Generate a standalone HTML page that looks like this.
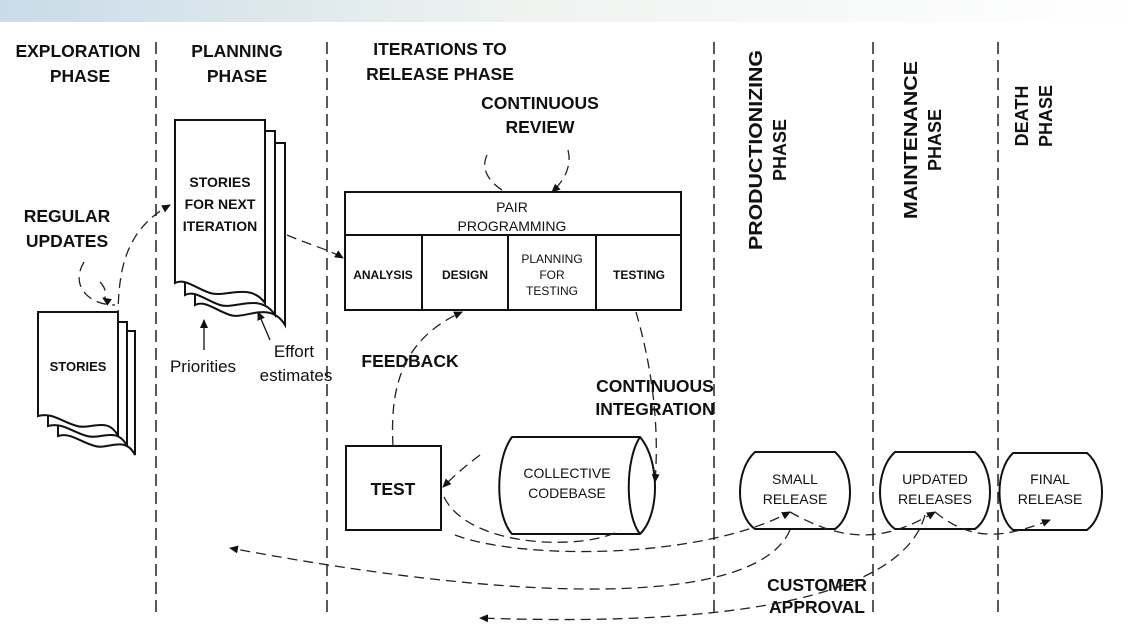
<!DOCTYPE html>
<html><head><meta charset="utf-8"><style>
html,body{margin:0;padding:0;background:#fff;}
svg{display:block;font-family:"Liberation Sans",Arial,sans-serif;}
.h{font-weight:bold;font-size:17.5px;fill:#111;text-anchor:middle;}
.s{font-size:13px;fill:#111;text-anchor:middle;}
.m{font-size:17px;fill:#111;text-anchor:middle;}
.d{stroke:#222;stroke-width:1.5;stroke-dasharray:12 6;fill:none;}
.c{stroke:#222;stroke-width:1.3;stroke-dasharray:10 6;fill:none;}
.b{stroke:#111;stroke-width:2;fill:#fff;}
</style></head><body>
<svg width="1140" height="631" viewBox="0 0 1140 631">
<defs>
<linearGradient id="g" x1="0" x2="1"><stop offset="0" stop-color="#c9dbe8"/><stop offset="0.45" stop-color="#eef3f0"/><stop offset="1" stop-color="#fff"/></linearGradient>
<marker id="a" markerWidth="10" markerHeight="10" refX="8" refY="5" orient="auto" markerUnits="userSpaceOnUse"><path d="M0,1 L9,5 L0,9 z" fill="#111"/></marker>
</defs>
<rect x="0" y="0" width="1140" height="22" fill="url(#g)"/>
<line class="d" x1="156" y1="42" x2="156" y2="612"/>
<line class="d" x1="327" y1="42" x2="327" y2="612"/>
<line class="d" x1="714" y1="42" x2="714" y2="612"/>
<line class="d" x1="873" y1="42" x2="873" y2="612"/>
<line class="d" x1="998" y1="42" x2="998" y2="612"/>
<text class="h" x="78" y="57">EXPLORATION</text><text class="h" x="80" y="82">PHASE</text>
<text class="h" x="237" y="57">PLANNING</text><text class="h" x="237" y="82">PHASE</text>
<text class="h" x="440" y="55">ITERATIONS TO</text><text class="h" x="440" y="80">RELEASE PHASE</text>
<text class="h" style="font-size:18px" transform="translate(762,150) rotate(-90)" textLength="200" lengthAdjust="spacingAndGlyphs">PRODUCTIONIZING</text>
<text class="h" style="font-size:18px" transform="translate(786,150) rotate(-90)">PHASE</text>
<text class="h" style="font-size:18px" transform="translate(917,140) rotate(-90)" textLength="158" lengthAdjust="spacingAndGlyphs">MAINTENANCE</text>
<text class="h" style="font-size:18px" transform="translate(941,140) rotate(-90)">PHASE</text>
<text class="h" style="font-size:18px" transform="translate(1028,116) rotate(-90)">DEATH</text>
<text class="h" style="font-size:18px" transform="translate(1052,116) rotate(-90)">PHASE</text>
<path class="b" d="M195,143 H285 V325 C270,300 245,320 230,315 C215,310 205,300 195,305 Z"/>
<path class="b" d="M185,131 H275 V315 C260,292 235,310 220,305 C205,300 195,290 185,295 Z"/>
<path class="b" d="M175,120 H265 V303 C250,282 225,298 210,293 C195,288 185,278 175,283 Z"/>
<text class="s" style="font-weight:bold;font-size:14px" x="220" y="187">STORIES</text>
<text class="s" style="font-weight:bold;font-size:14px" x="220" y="209">FOR NEXT</text>
<text class="s" style="font-weight:bold;font-size:14px" x="220" y="231">ITERATION</text>
<path class="b" d="M58,331 H135 V455 C125,435 108,450 95,446 C80,442 70,432 58,436 Z"/>
<path class="b" d="M48,322 H127 V446 C117,426 100,440 87,436 C72,432 62,422 48,426 Z"/>
<path class="b" d="M38,312 H118 V436 C108,416 90,430 77,426 C62,422 52,412 38,416 Z"/>
<text class="s" style="font-weight:bold" x="78" y="371">STORIES</text>
<rect class="b" x="345" y="192" width="336" height="118"/>
<line x1="345" y1="235" x2="681" y2="235" stroke="#111" stroke-width="2"/>
<line x1="422" y1="235" x2="422" y2="310" stroke="#111" stroke-width="2"/>
<line x1="508" y1="235" x2="508" y2="310" stroke="#111" stroke-width="2"/>
<line x1="596" y1="235" x2="596" y2="310" stroke="#111" stroke-width="2"/>
<text class="s" x="512" y="212" style="font-size:14px">PAIR</text><text class="s" x="512" y="231" style="font-size:14px">PROGRAMMING</text>
<text class="s" x="383" y="279" style="font-weight:bold;font-size:12px">ANALYSIS</text>
<text class="s" x="465" y="279" style="font-weight:bold;font-size:12px">DESIGN</text>
<text class="s" x="552" y="263" style="font-size:12px">PLANNING</text>
<text class="s" x="552" y="279" style="font-size:12px">FOR</text>
<text class="s" x="552" y="295" style="font-size:12px">TESTING</text>
<text class="s" x="639" y="279" style="font-weight:bold;font-size:12px">TESTING</text>
<text class="h" x="540" y="109">CONTINUOUS</text><text class="h" x="540" y="133">REVIEW</text>
<path class="c" d="M487,155 C480,170 490,183 505,192"/>
<path class="c" marker-end="url(#a)" d="M568,150 C572,165 565,180 552,192"/>
<rect class="b" x="346" y="446" width="95" height="84"/>
<text class="h" x="393" y="495">TEST</text>
<path class="b" d="M512,437 H640 C660,460 660,515 640,534 H512 C495,515 495,460 512,437 Z"/>
<path d="M640,437 C625,460 625,515 640,534" fill="none" stroke="#111" stroke-width="2"/>
<text class="s" x="567" y="478" style="font-size:14px">COLLECTIVE</text><text class="s" x="567" y="498" style="font-size:14px">CODEBASE</text>
<path class="b" d="M755,452 H835 C855,470 855,515 835,529 H755 C735,515 735,470 755,452 Z"/>
<text class="s" x="795" y="484" style="font-size:14px">SMALL</text><text class="s" x="795" y="504" style="font-size:14px">RELEASE</text>
<path class="b" d="M895,452 H975 C995,470 995,515 975,529 H895 C875,515 875,470 895,452 Z"/>
<text class="s" x="935" y="484" style="font-size:14px">UPDATED</text><text class="s" x="935" y="504" style="font-size:14px">RELEASES</text>
<path class="b" d="M1013,453 H1087 C1107,470 1107,515 1087,530 H1013 C995,515 995,470 1013,453 Z"/>
<text class="s" x="1050" y="484" style="font-size:14px">FINAL</text><text class="s" x="1050" y="504" style="font-size:14px">RELEASE</text>
<text class="h" x="67" y="222">REGULAR</text><text class="h" x="67" y="247">UPDATES</text>
<text class="m" x="203" y="372">Priorities</text>
<text class="m" x="294" y="357">Effort</text><text class="m" x="296" y="381">estimates</text>
<text class="h" x="410" y="367">FEEDBACK</text>
<text class="h" x="655" y="392">CONTINUOUS</text><text class="h" x="655" y="415">INTEGRATION</text>
<text class="h" x="817" y="591">CUSTOMER</text><text class="h" x="817" y="613">APPROVAL</text>
<path class="c" d="M84,262 C70,285 88,305 115,305"/>
<path class="c" marker-end="url(#a)" d="M100,282 C108,290 106,300 103,298"/>
<path class="c" marker-end="url(#a)" d="M118,320 C118,270 125,230 170,205"/>
<path class="c" marker-end="url(#a)" d="M287,235 C310,245 330,250 343,258"/>
<line x1="204" y1="350" x2="204" y2="320" stroke="#111" stroke-width="1.3" marker-end="url(#a)"/>
<line x1="270" y1="340" x2="258" y2="312" stroke="#111" stroke-width="1.3" marker-end="url(#a)"/>
<path class="c" marker-end="url(#a)" d="M393,446 C390,390 400,340 462,312"/>
<path class="c" marker-end="url(#a)" d="M636,312 C650,360 660,420 655,482"/>
<path class="c" marker-end="url(#a)" d="M480,455 C460,470 450,480 443,487"/>
<path class="c" d="M444,497 C470,550 590,550 620,530"/>
<path class="c" marker-end="url(#a)" d="M455,535 C520,560 700,560 790,512"/>
<path class="c" marker-end="url(#a)" d="M790,512 C840,540 880,545 935,512"/>
<path class="c" marker-end="url(#a)" d="M935,512 C970,540 1000,540 1050,520"/>
<path class="c" marker-end="url(#a)" d="M790,530 C760,600 560,610 230,548"/>
<path class="c" marker-end="url(#a)" d="M925,515 C910,570 820,630 480,618"/>
</svg>
</body></html>
